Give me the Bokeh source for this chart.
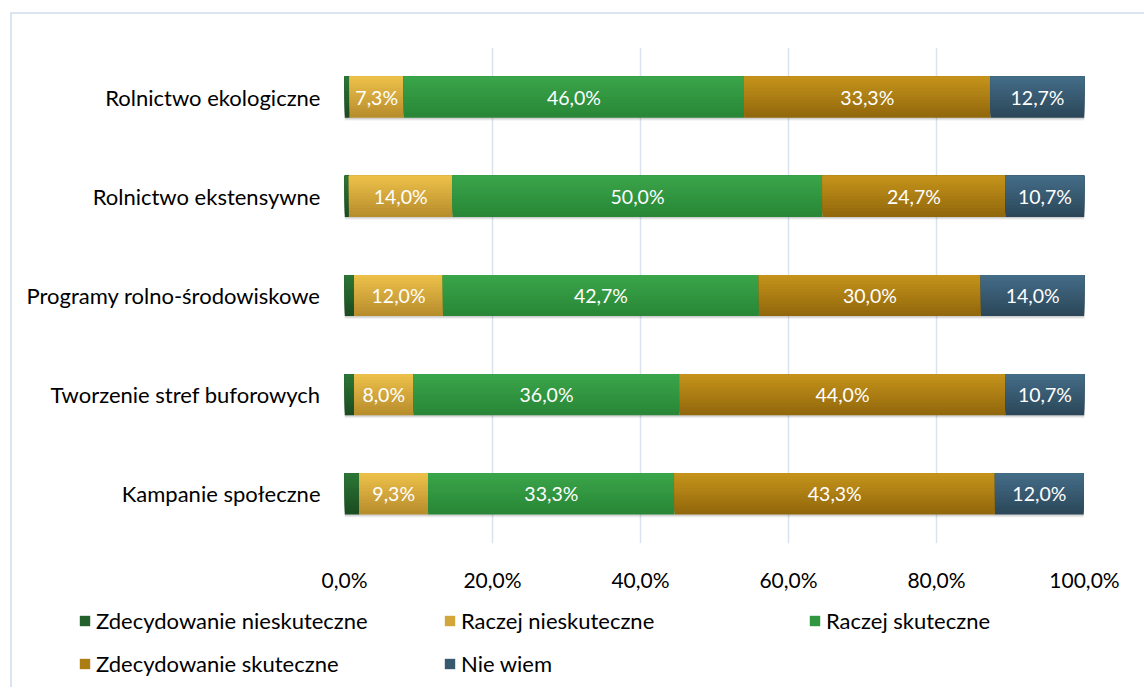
import numpy as np
from bokeh.plotting import figure
from bokeh.layouts import column
from bokeh.models import (ColumnDataSource, FactorRange, Range1d, FixedTicker,
                          Legend, LegendItem)
from bokeh.transform import dodge
from bokeh.core.properties import value
from bokeh.embed import file_html
from bokeh.resources import INLINE

# ---------------- data ----------------
categories = ["Rolnictwo ekologiczne", "Rolnictwo ekstensywne",
              "Programy rolno-środowiskowe", "Tworzenie stref buforowych",
              "Kampanie społeczne"]
series_names = ["Zdecydowanie nieskuteczne", "Raczej nieskuteczne",
                "Raczej skuteczne", "Zdecydowanie skuteczne", "Nie wiem"]
zdecydowanie_nieskuteczne = [0.7, 0.6, 1.3, 1.3, 2.0]
raczej_nieskuteczne = [7.3, 14.0, 12.0, 8.0, 9.3]
raczej_skuteczne = [46.0, 50.0, 42.7, 36.0, 33.3]
zdecydowanie_skuteczne = [33.3, 24.7, 30.0, 44.0, 43.3]
nie_wiem = [12.7, 10.7, 14.0, 10.7, 12.0]
x_ticks = [0, 20, 40, 60, 80, 100]
x_tick_labels = ["0,0%", "20,0%", "40,0%", "60,0%", "80,0%", "100,0%"]

series_values = [zdecydowanie_nieskuteczne, raczej_nieskuteczne,
                 raczej_skuteczne, zdecydowanie_skuteczne, nie_wiem]
show_labels = [False, True, True, True, True]
# gradient colors top -> bottom
grad = [("#2c7736", "#1b4a20"),
        ("#eec14a", "#b68c2c"),
        ("#3aa54a", "#288636"),
        ("#c6941b", "#90660b"),
        ("#446d88", "#2b4658")]

FONT = "Lato"

def hex2rgb(h):
    h = h.lstrip("#")
    return np.array([int(h[i:i + 2], 16) for i in (0, 2, 4)], dtype=float)

def mix(c1, c2, t):
    c = hex2rgb(c1) * (1 - t) + hex2rgb(c2) * t
    return "#%02x%02x%02x" % tuple(int(round(v)) for v in c)

W = 1132
H_MAIN, H_LEG = 580, 93

p = figure(width=W, height=H_MAIN, output_backend="svg", toolbar_location=None,
           y_range=FactorRange(factors=list(reversed(categories)), range_padding=0),
           x_range=Range1d(0, 100),
           min_border_left=332, min_border_right=60,
           min_border_top=33, min_border_bottom=51)
p.frame_align = False
p.outline_line_color = None
p.background_fill_color = "white"
p.border_fill_color = "white"

# grid / axes
p.xgrid.grid_line_color = "#d9e3f0"
p.xgrid.grid_line_width = 1.5
p.ygrid.grid_line_color = None
p.xaxis.ticker = FixedTicker(ticks=x_ticks)
p.xaxis.major_label_overrides = {t: l for t, l in zip(x_ticks, x_tick_labels)}
for ax in (p.xaxis, p.yaxis):
    ax.axis_line_color = None
    ax.major_tick_line_color = None
    ax.minor_tick_line_color = None
    ax.major_label_text_font = FONT
    ax.major_label_text_color = "#000000"
p.xaxis.major_label_text_font_size = "21px"
p.yaxis.major_label_text_font_size = "22px"
p.xaxis.major_label_standoff = 17
p.yaxis.major_label_standoff = 18

# data source
data = {"cat": categories}
cum = np.zeros(len(categories))
for i, vals in enumerate(series_values):
    v = np.array(vals, dtype=float)
    data[f"l{i}"] = cum.copy()
    data[f"r{i}"] = cum + v
    data[f"c{i}"] = cum + v / 2
    data[f"t{i}"] = [f"{x:.1f}".replace(".", ",") + "%" for x in v]
    cum = cum + v
data["total"] = cum
data["zero"] = np.zeros(len(categories))
src = ColumnDataSource(data)

BAR_H = 0.415
# soft shadow under each bar
for off, a in [(-0.03, 0.05), (-0.02, 0.07), (-0.01, 0.08)]:
    p.hbar(y=dodge("cat", off, range=p.y_range), left="zero", right="total",
           height=BAR_H, source=src, fill_color="#000000", fill_alpha=a,
           line_color=None)

# gradient: nested bars anchored to top edge, drawn from tallest to shortest
N = 14
for i in range(len(series_values)):
    c_top, c_bot = grad[i]
    for k in range(N - 1, -1, -1):
        frac = (k + 1) / N
        h = BAR_H * frac
        off = BAR_H / 2 - h / 2
        col = mix(c_top, c_bot, (k + 0.5) / N)
        p.hbar(y=dodge("cat", off, range=p.y_range), left=f"l{i}",
               right=f"r{i}", height=h, source=src,
               fill_color=col, line_color=None)

for i in range(len(series_values)):
    if show_labels[i]:
        p.text(x=f"c{i}", y="cat", text=f"t{i}", source=src,
               text_align="center", text_baseline="middle",
               text_color="white", text_font=value(FONT),
               text_font_size="19.5px")

# ---------------- legend strip ----------------
p2 = figure(width=W, height=H_LEG, output_backend="svg", toolbar_location=None,
            x_range=Range1d(0, 1), y_range=Range1d(0, 1),
            x_axis_location=None, y_axis_location=None,
            min_border=0, min_border_left=0, min_border_right=0,
            min_border_top=0, min_border_bottom=0)
p2.frame_align = False
p2.outline_line_color = None
p2.grid.grid_line_color = None
items = []
for i, name in enumerate(series_names):
    col = mix(grad[i][0], grad[i][1], 0.5)
    r = p2.rect(x=[-5], y=[-5], width=[0.1], height=[0.1],
                fill_color=col, line_color=None)
    items.append(LegendItem(label=name, renderers=[r]))

legend = Legend(items=items, orientation="horizontal", ncols=3,
                location=(66, 2), padding=0, margin=0, spacing=0,
                glyph_width=13, glyph_height=13, label_standoff=5,
                label_width=347, label_height=43,
                label_text_font=FONT, label_text_font_size="22px",
                label_text_color="#000000",
                background_fill_alpha=0, border_line_color=None)
p2.add_layout(legend, "center")

layout = column(p, p2, spacing=0)
layout.styles = {"border-top": "2px solid #dbe4f1",
                 "border-left": "2px solid #dbe4f1",
                 "margin-left": "10px", "margin-top": "12px"}

open("out.html", "w").write(file_html(layout, INLINE))
